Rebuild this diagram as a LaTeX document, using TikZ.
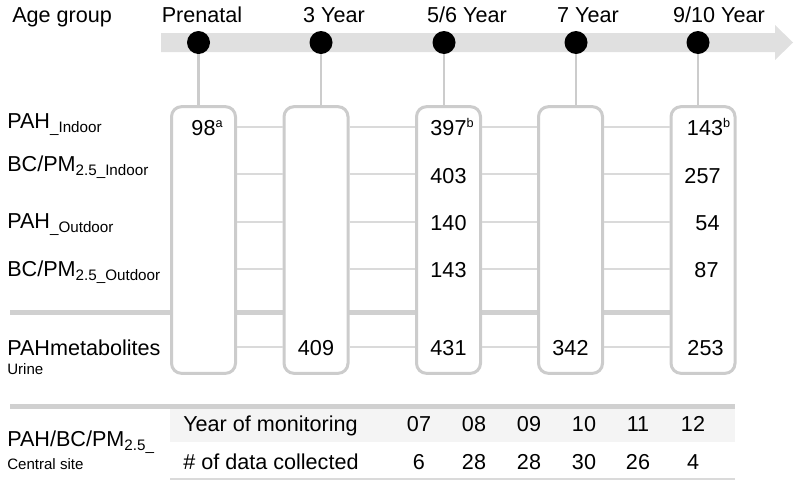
\documentclass[tikz,border=0pt]{standalone}
\usepackage{fontspec}
\setmainfont{Liberation Sans}
\usetikzlibrary{positioning}
\definecolor{bandgray}{RGB}{224,224,224}
\definecolor{boxgray}{RGB}{204,204,204}
\definecolor{linegray}{RGB}{218,218,218}
\definecolor{rulegray}{RGB}{208,208,208}
\definecolor{rowgray}{RGB}{244,244,244}
\newcommand{\lowtext}[1]{\raisebox{-3.5pt}{\fontsize{11.4}{13}\selectfont #1}}
\newcommand{\uptext}[1]{\rlap{\raisebox{6pt}{\fontsize{9.5}{11}\selectfont #1}}}

\begin{document}
\begin{tikzpicture}[x=0.75pt, y=-0.75pt,
    big/.style={font=\fontsize{16.2}{19}\selectfont, inner sep=0pt},
    small/.style={font=\fontsize{11.3}{13}\selectfont, inner sep=0pt},
    stage/.style={draw=boxgray, line width=2.25pt, fill=white, rounded corners=7.5pt, minimum width=48pt, minimum height=200pt, inner sep=0pt},
    milepoint/.style={circle, fill=black, minimum size=17.25pt, inner sep=0pt},
    stem/.style={draw=boxgray, line width=1.7pt},
    rowline/.style={draw=linegray, line width=1.2pt},
    rule/.style={draw=rulegray, line width=3.75pt}
]
\useasboundingbox (0,0) rectangle (799,486);

% timeline band
\fill[bandgray] (161,33) -- (775,33) -- (775,25) -- (793,42.5) -- (775,60) -- (775,52) -- (161,52) -- cycle;

% separators and table
\draw[rule] (10,312) -- (703,312);
\draw[rule] (10,406) -- (735,406);
\fill[rowgray] (170,409) rectangle (735,442);
\draw[draw=linegray, line width=1.2pt] (170,479) -- (735,479);

% age groups
\node[big, anchor=base west] (age) at (12,22) {Age group};
\node[big, anchor=base] (a1) at (202,22) {Prenatal};
\node[big, anchor=base] (a2) at (334,22) {3 Year};
\node[big, anchor=base] (a3) at (467,22) {5/6 Year};
\node[big, anchor=base] (a4) at (588,22) {7 Year};
\node[big, anchor=base] (a5) at (719,22) {9/10 Year};

% dots and boxes
\foreach \n/\x in {1/198.5,2/321,3/444,4/576,5/698}
  \node[milepoint] (d\n) at (\x,42.5) {};
\foreach \n/\x in {1/203.5,2/316,3/448.5,4/570.5,5/703}
  \node[stage] (b\n) at (\x,240) {};
\foreach \n in {1,...,5}
  \draw[stem] (d\n) -- (d\n |- b\n.north);

% rows
\foreach \r/\y in {1/127,2/174,3/222,4/269,5/347}
  \coordinate (r\r) at (0,\y);
\foreach \r in {1,...,5}
  \foreach \a/\b in {1/2,2/3,3/4,4/5}
    \draw[rowline] (b\a.east |- r\r) -- (b\b.west |- r\r);

% row labels
\node[big, anchor=base west] (l1) at (7,128) {PAH\lowtext{\_Indoor}};
\node[big, anchor=base west] (l2) at (7,171) {BC/PM\lowtext{2.5\_Indoor}};
\node[big, anchor=base west] (l3) at (7,228) {PAH\lowtext{\_Outdoor}};
\node[big, anchor=base west] (l4) at (7,276) {BC/PM\lowtext{2.5\_Outdoor}};
\node[big, anchor=base west] (l5) at (7,355) {PAHmetabolites};
\node[small, anchor=base west] (l5u) at (7,374) {Urine};
\node[big, anchor=base west] (l6) at (7,446) {PAH/BC/PM\lowtext{2.5\_}};
\node[small, anchor=base west] (l6c) at (7,469) {Central site};

% sample counts
\node[big, anchor=base] (v11) at (203.5,135) {98\uptext{a}};
\node[big, anchor=base] (v25) at (316,355) {409};
\node[big, anchor=base] (v31) at (448.5,135) {397\uptext{b}};
\node[big, anchor=base] (v32) at (448.5,183) {403};
\node[big, anchor=base] (v33) at (448.5,230) {140};
\node[big, anchor=base] (v34) at (448.5,277) {143};
\node[big, anchor=base] (v35) at (448.5,355) {431};
\node[big, anchor=base] (v45) at (570.5,355) {342};
\node[big, anchor=base] (v51) at (705,135) {143\uptext{b}};
\node[big, anchor=base] (v52) at (702.5,183) {257};
\node[big, anchor=base] (v53) at (707.5,230) {54};
\node[big, anchor=base] (v54) at (706.5,277) {87};
\node[big, anchor=base] (v55) at (705.5,355) {253};

% central site monitoring
\node[big, anchor=base west] (t1) at (183,431) {Year of monitoring};
\node[big, anchor=base west] (t2) at (183,469) {\# of data collected};
\foreach \x/\yr/\cnt in {419/07/6, 474/08/28, 529/09/28, 584/10/30, 638/11/26, 693/12/4} {
  \node[big, anchor=base] (y\yr) at (\x,431) {\yr};
  \node[big, anchor=base] (c\yr) at (\x,469) {\cnt};
}
\end{tikzpicture}
\end{document}
